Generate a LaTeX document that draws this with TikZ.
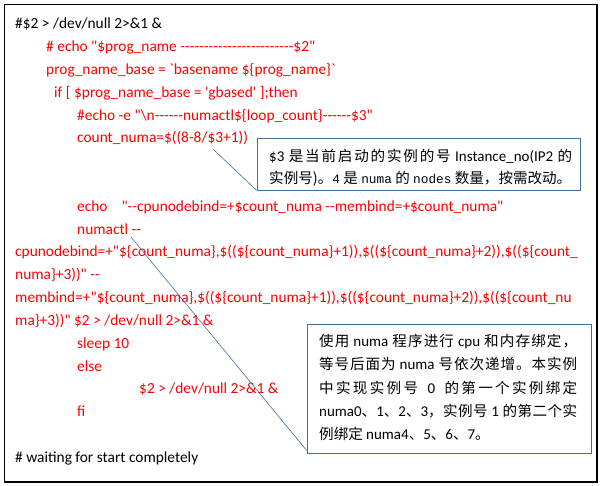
\documentclass[tikz,border=0pt]{standalone}
\usepackage{fontspec}
\newfontfamily\code{Carlito}
\newfontfamily\cjk{Noto Sans CJK SC}[Scale=0.97]
\newfontfamily\simlat{Liberation Mono}[Scale=0.85]
\definecolor{boxblue}{RGB}{65,113,156}
% stretchable glue between CJK characters
\XeTeXinterchartokenstate=1
\newXeTeXintercharclass\cjkcls
\newcount\cjkcnt
\cjkcnt="4E00
\loop \XeTeXcharclass\cjkcnt=\cjkcls \advance\cjkcnt by 1 \ifnum\cjkcnt<"A000 \repeat
\XeTeXcharclass"3001=\cjkcls \XeTeXcharclass"3002=\cjkcls \XeTeXcharclass"FF0C=\cjkcls
\XeTeXinterchartoks\cjkcls\cjkcls={\hskip 0pt plus 3pt\relax}

\begin{document}
\begin{tikzpicture}[x=1pt, y=-1pt]
	\useasboundingbox (0,0) rectangle (600,486);
	\draw[line width=1.2pt] (4.5,4.5) rectangle (597,482);
	% script lines
	\begin{scope} [every node/.style={anchor=base west, inner sep=0, text=red, font=\code\fontsize{15.4}{18}\selectfont}]
		\node[text=black] (c0) at (15,29) {\#\$2 > /dev/null 2>\&1 \&};
		\node (c1) at (46,51.8) {\# echo "\$prog\_name ------------------------\$2"};
		\node (c2) at (46,74.6) {prog\_name\_base = `basename \$\{prog\_name\}`};
		\node (c3) at (54,97.4) {if [ \$prog\_name\_base = 'gbased' ];then};
		\node (c4) at (77,120.2) {\#echo -e "\textbackslash n------numactl\$\{loop\_count\}------\$3"};
		\node (c5) at (77,143) {count\_numa=\$((8-8/\$3+1))};
		\node (c8) at (77,211.4) {echo\ \ \ \ "--cpunodebind=+\$count\_numa --membind=+\$count\_numa"};
		\node (c9) at (77,234.2) {numactl --};
		\node (c10) at (15,257) {cpunodebind=+"\$\{count\_numa\},\$((\$\{count\_numa\}+1)),\$((\$\{count\_numa\}+2)),\$((\$\{count\_};
		\node (c11) at (15,279.8) {numa\}+3))" --};
		\node (c12) at (15,302.6) {membind=+"\$\{count\_numa\},\$((\$\{count\_numa\}+1)),\$((\$\{count\_numa\}+2)),\$((\$\{count\_nu};
		\node (c13) at (15,325.4) {ma\}+3))" \$2 > /dev/null 2>\&1 \&};
		\node (c14) at (77,348.2) {sleep 10};
		\node (c15) at (77,371) {else};
		\node (c16) at (139,393.8) {\$2 > /dev/null 2>\&1 \&};
		\node (c17) at (77,416.6) {fi};
		\node[text=black] (c19) at (15,462.2) {\# waiting for start completely};
	\end{scope}
	% callout boxes
	\begin{scope} [every node/.style={draw=boxblue, line width=0.8pt, fill=white, inner sep=0}]
		\node[minimum width=323, minimum height=52] (n1) at (418.5,164) {};
		\node[minimum width=284, minimum height=129] (n2) at (449,388.5) {};
	\end{scope}
	\coordinate (tip1) at (213,149);
	\coordinate (tip2) at (131,237);
	\draw[boxblue, line width=0.6pt] (n1.south west) -- (tip1);
	\draw[boxblue, line width=0.6pt] ([yshift=3pt]n2.south west) -- (tip2);
	% callout texts
	\begin{scope} [every node/.style={anchor=base west, inner sep=0, font=\code\fontsize{15}{18}\selectfont}]
		\node (a1) at (269,162) {\makebox[303pt][s]{\$3 {\cjk 是当前启动的实例的号} Instance\_no(IP2 {\cjk 的}}};
		\node (a2) at (269,184) {{\cjk 实例号)。}{\simlat 4} {\cjk 是} {\simlat numa} {\cjk 的} {\simlat nodes} {\cjk 数量，按需改动。}};
		\node (b1) at (319,347) {\makebox[258pt][s]{{\cjk 使用} numa {\cjk 程序进行} cpu {\cjk 和内存绑定，}}};
		\node (b2) at (319,370) {\makebox[258pt][s]{{\cjk 等号后面为} numa {\cjk 号依次递增。本实例}}};
		\node (b3) at (319,393) {\makebox[258pt][s]{{\cjk 中实现实例号}\ \ 0\ \ {\cjk 的第一个实例绑定}}};
		\node (b4) at (319,416) {\makebox[258pt][s]{numa0{\cjk 、}1{\cjk 、}2{\cjk 、}3{\cjk ，实例号} 1 {\cjk 的第二个实}}};
		\node (b5) at (319,439) {{\cjk 例绑定} numa4{\cjk 、}5{\cjk 、}6{\cjk 、}7{\cjk 。}};
	\end{scope}
\end{tikzpicture}
\end{document}
